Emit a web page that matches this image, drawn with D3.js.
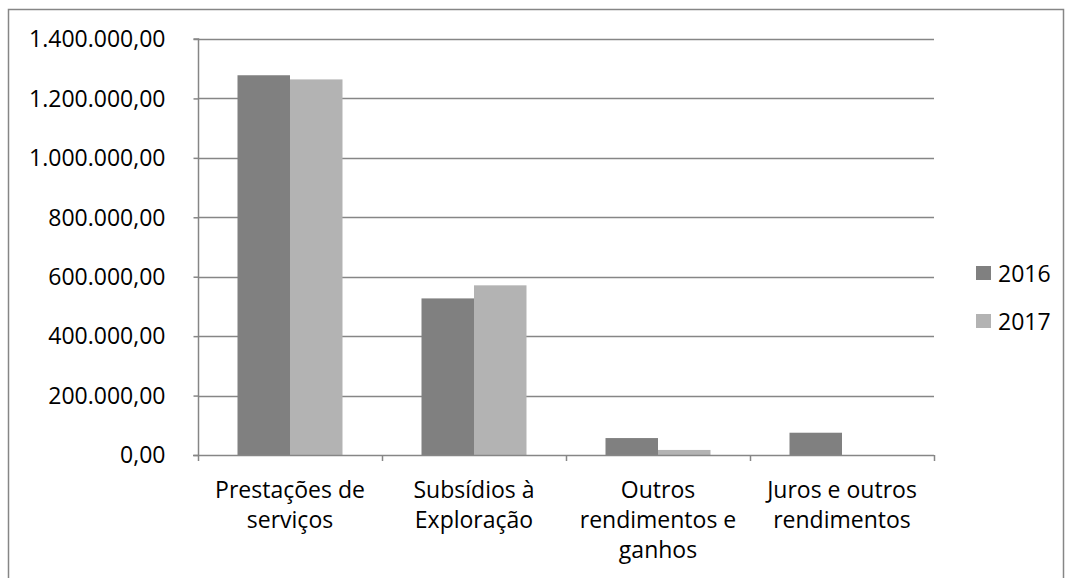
<!DOCTYPE html>
<html><head><meta charset="utf-8">
<script src="https://cdn.jsdelivr.net/npm/d3@7"></script>
<style>body{margin:0;background:#fff}svg{display:block}text{font-family:"Open Sans",sans-serif;fill:#000}</style>
</head><body><svg id="c" width="1067" height="578"></svg>
<script>
const categories = [["Prestações de","serviços"],["Subsídios à","Exploração"],["Outros","rendimentos e","ganhos"],["Juros e outros","rendimentos"]];
const series = ["2016","2017"];
const values2016 = [1278000, 527000, 57000, 75000];
const values2017 = [1264000, 571000, 17000, 0];
const yTicks = [0,200000,400000,600000,800000,1000000,1200000,1400000];
const colors = ["#808080","#b3b3b3"];

const svg = d3.select("#c");
svg.append("rect").attr("x",8.5).attr("y",9.5).attr("width",1055).attr("height",600).attr("fill","none").attr("stroke","#868686").attr("stroke-width",1.5);

const pL=198, pR=934, pT=39, pB=455;
const x = d3.scaleBand().domain(d3.range(categories.length)).range([pL,pR]).paddingInner(0).paddingOuter(0);
const y = d3.scaleLinear().domain([0,1400000]).range([pB,pT]);
const fmt = v => d3.formatLocale({decimal:",",thousands:".",grouping:[3],currency:["",""]}).format(",.2f")(v);

// gridlines
svg.append("g").selectAll("line").data(yTicks.filter(d=>d>0)).join("line")
  .attr("x1",pL).attr("x2",pR).attr("y1",d=>Math.round(y(d))+0.5).attr("y2",d=>Math.round(y(d))+0.5)
  .attr("stroke","#868686").attr("stroke-width",1.5);

// bars
const vals=[values2016,values2017];
const bw = 52.5;
series.forEach((s,si)=>{
  svg.append("g").selectAll("rect").data(vals[si]).join("rect")
    .attr("x",(d,i)=>x(i)+x.bandwidth()/2 - bw + si*bw)
    .attr("width",bw)
    .attr("y",d=>y(d)).attr("height",d=>pB-y(d))
    .attr("fill",colors[si]);
});

// y axis
const ya = svg.append("g").attr("transform",`translate(${pL+0.5},0)`)
  .call(d3.axisLeft(y).tickValues(yTicks).tickFormat(fmt).tickSize(5).tickPadding(28));
ya.select(".domain").attr("stroke","#868686").attr("stroke-width",1.5).attr("d",`M-5,${pT}H0V${pB}`);
ya.selectAll(".tick line").attr("stroke","#868686").attr("stroke-width",1.5);
ya.selectAll(".tick text").attr("font-size",23).attr("font-family","Open Sans").attr("fill","#000").attr("dy","0.34em");

// x axis
svg.append("line").attr("x1",pL-5).attr("x2",pR).attr("y1",pB+0.5).attr("y2",pB+0.5).attr("stroke","#868686").attr("stroke-width",1.5);
svg.append("g").selectAll("line").data(d3.range(categories.length+1)).join("line")
  .attr("x1",i=>pL+0.5+i*x.bandwidth()).attr("x2",i=>pL+0.5+i*x.bandwidth())
  .attr("y1",pB).attr("y2",pB+6).attr("stroke","#868686").attr("stroke-width",1.5);

const xl = svg.append("g").selectAll("text").data(categories).join("text")
  .attr("text-anchor","middle").attr("font-size",23)
  .attr("x",(d,i)=>x(i)+x.bandwidth()/2).attr("y",498);
xl.selectAll("tspan").data(d=>d).join("tspan")
  .attr("x",function(){return this.parentNode.getAttribute("x");})
  .attr("dy",(d,i)=>i===0?0:29.8).text(d=>d);

// legend
const lg = svg.append("g").selectAll("g").data(series).join("g")
  .attr("transform",(d,i)=>`translate(976,${266+i*48})`);
lg.append("rect").attr("width",15).attr("height",14).attr("fill",(d,i)=>colors[i]);
lg.append("text").attr("x",22).attr("y",15.5).attr("font-size",23).text(d=>d);
</script></body></html>
